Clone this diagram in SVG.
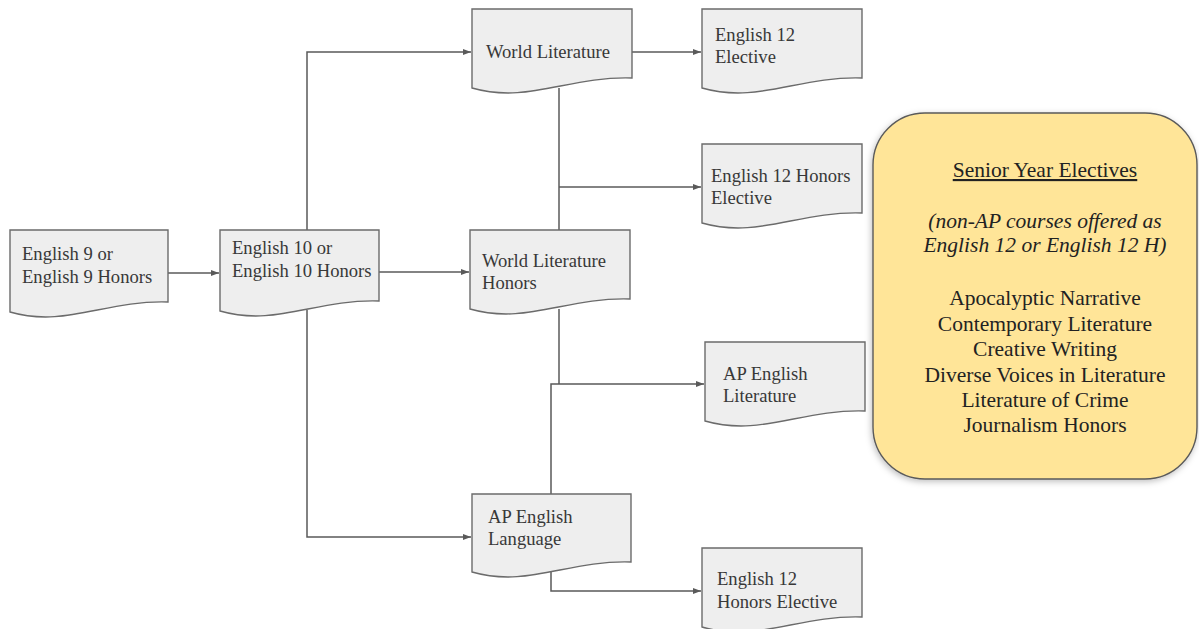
<svg xmlns="http://www.w3.org/2000/svg" width="1199" height="629" viewBox="0 0 1199 629">
<style>
.node{fill:#eeeeee;stroke:#6b6b6b;stroke-width:1.4}
.nt{font-family:"Liberation Serif","Times New Roman",serif;font-size:18.6px;fill:#383838}
.conn{fill:none;stroke:#5a5a5a;stroke-width:1.5}
.yt{font-family:"Liberation Serif","Times New Roman",serif;font-size:21.5px;fill:#222222;text-anchor:middle}
</style>
<defs>
<marker id="arr" markerWidth="8" markerHeight="6" refX="8" refY="3" orient="auto" markerUnits="userSpaceOnUse">
<path d="M0,0 L8,3 L0,6 Z" fill="#5a5a5a"/>
</marker>
<filter id="sh" x="-10%" y="-10%" width="120%" height="120%">
<feDropShadow dx="-1" dy="2" stdDeviation="3" flood-color="#000" flood-opacity="0.25"/>
</filter>
</defs>
<rect width="1199" height="629" fill="#ffffff"/>
<g id="connectors">
<path class="conn" d="M168 273 H219" marker-end="url(#arr)"/>
<path class="conn" d="M307 230 V52 H471" marker-end="url(#arr)"/>
<path class="conn" d="M379 272 H469" marker-end="url(#arr)"/>
<path class="conn" d="M307 310 V537 H471" marker-end="url(#arr)"/>
<path class="conn" d="M632 52 H701" marker-end="url(#arr)"/>
<path class="conn" d="M559 88 V230"/>
<path class="conn" d="M559 187 H701" marker-end="url(#arr)"/>
<path class="conn" d="M559 309 V384"/>
<path class="conn" d="M551 494 V384 H704" marker-end="url(#arr)"/>
<path class="conn" d="M551 572 V591 H701" marker-end="url(#arr)"/>
</g>
<g id="english9">
<path class="node" d="M10 230 H168 V302 C104.8 300 65.3 328 10 312 Z"/>
<text class="nt" x="22" y="260">English 9 or</text>
<text class="nt" x="22" y="283">English 9 Honors</text>
</g>
<g id="english10">
<path class="node" d="M220 230 H379 V301 C315.4 299 275.65 327 220 311 Z"/>
<text class="nt" x="232" y="254">English 10 or</text>
<text class="nt" x="232" y="277">English 10 Honors</text>
</g>
<g id="worldlit">
<path class="node" d="M472 9 H632 V78 C568 76 528 104 472 88 Z"/>
<text class="nt" x="486" y="58">World Literature</text>
</g>
<g id="eng12elective">
<path class="node" d="M702 9 H862 V78 C798 76 758 104 702 88 Z"/>
<text class="nt" x="715" y="41">English 12</text>
<text class="nt" x="715" y="63">Elective</text>
</g>
<g id="eng12honorselective">
<path class="node" d="M702 144 H862 V213 C798 211 758 239 702 223 Z"/>
<text class="nt" x="711" y="182">English 12 Honors</text>
<text class="nt" x="711" y="204">Elective</text>
</g>
<g id="worldlithonors">
<path class="node" d="M470 230 H630 V299 C566 297 526 325 470 309 Z"/>
<text class="nt" x="482" y="267">World Literature</text>
<text class="nt" x="482" y="289">Honors</text>
</g>
<g id="aplit">
<path class="node" d="M705 342 H865 V411 C801 409 761 437 705 421 Z"/>
<text class="nt" x="723" y="380">AP English</text>
<text class="nt" x="723" y="402">Literature</text>
</g>
<g id="aplang">
<path class="node" d="M472 494 H631 V562 C567.4 560 527.65 588 472 572 Z"/>
<text class="nt" x="488" y="523">AP English</text>
<text class="nt" x="488" y="545">Language</text>
</g>
<g id="eng12honorselective2">
<path class="node" d="M702 548 H862 V617 C798 615 758 643 702 627 Z"/>
<text class="nt" x="717" y="585">English 12</text>
<text class="nt" x="717" y="608">Honors Elective</text>
</g>
<g id="seniorelectives">
<rect x="873" y="113" width="324" height="366" rx="52" ry="52" fill="#ffe598" stroke="#5a5a5a" stroke-width="1.4" filter="url(#sh)"/>
<text class="yt" x="1045" y="177" text-decoration="underline">Senior Year Electives</text>
<text class="yt" x="1045" y="228" font-style="italic">(non-AP courses offered as</text>
<text class="yt" x="1045" y="252" font-style="italic">English 12 or English 12 H)</text>
<text class="yt" x="1045" y="305">Apocalyptic Narrative</text>
<text class="yt" x="1045" y="331">Contemporary Literature</text>
<text class="yt" x="1045" y="356">Creative Writing</text>
<text class="yt" x="1045" y="382">Diverse Voices in Literature</text>
<text class="yt" x="1045" y="407">Literature of Crime</text>
<text class="yt" x="1045" y="432">Journalism Honors</text>
</g>
</svg>
